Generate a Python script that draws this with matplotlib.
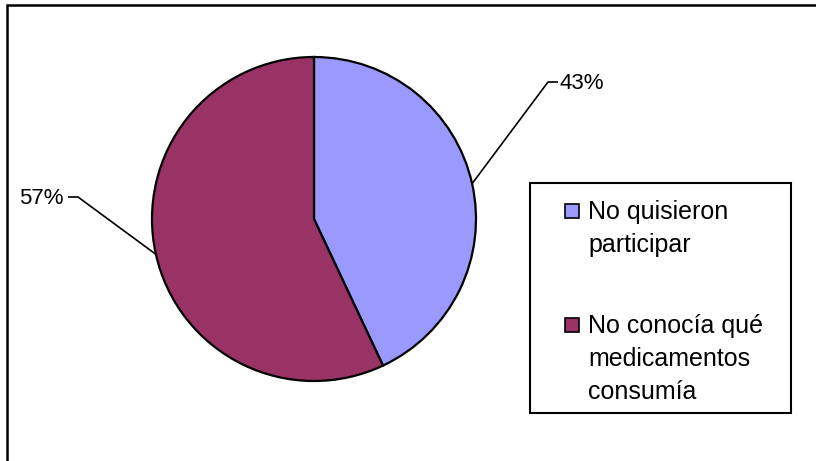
import numpy as np
import matplotlib
matplotlib.use("Agg")
import matplotlib.pyplot as plt
from matplotlib.patches import Rectangle

plt.rcParams['font.family'] = ['Liberation Sans', 'DejaVu Sans']

# pie data
categories = ["No quisieron\nparticipar", "No conocía qué\nmedicamentos\nconsumía"]
values = [43, 57]
colors = ["#9999FF", "#993366"]

W, H = 816, 461
fig = plt.figure(figsize=(W / 100, H / 100), dpi=100)
ax = fig.add_axes([0, 0, 1, 1])

# work in pixel units, y measured from the top
def py(y):
    return H - y

cx, cy, r = 314, py(219), 162
wedges, _ = ax.pie(values, colors=colors, startangle=90, counterclock=False,
                   center=(cx, cy), radius=r,
                   wedgeprops=dict(edgecolor="black", linewidth=1.6))

ax.set_xlim(0, W)
ax.set_ylim(0, H)
ax.set_aspect("auto")
ax.axis("off")

# percentage labels with bent leader lines
label_layout = [
    # elbow x, elbow y, end x, text x, alignment
    (548, 82, 558, 560, "left"),
    (78, 197, 68, 64, "right"),
]
for w, v, (ex, ey, tx_end, tx, ha) in zip(wedges, values, label_layout):
    mid = np.deg2rad((w.theta1 + w.theta2) / 2)
    sx = cx + r * np.cos(mid)
    sy = cy + r * np.sin(mid)
    ax.plot([sx, ex, tx_end], [sy, py(ey), py(ey)], color="black", lw=1.2,
            solid_capstyle="butt", clip_on=False)
    ax.text(tx, py(ey) - 7, f"{v}%", ha=ha, va="baseline", fontsize=16)

# legend box drawn by hand so the swatch sits beside the first line
ax.add_patch(Rectangle((530, py(413)), 261, 230, facecolor="white",
                       edgecolor="black", linewidth=1.5, zorder=3))
entry_tops = [203, 317]
for top, lab, col in zip(entry_tops, categories, colors):
    ax.add_patch(Rectangle((565, py(top + 15)), 14, 14, facecolor=col,
                           edgecolor="black", linewidth=1.2, zorder=4))
    ax.text(588, py(top) + 3, lab, ha="left", va="top", fontsize=18,
            linespacing=1.48, zorder=4)

# chart area border
ax.add_patch(Rectangle((7, py(470)), 830, 465, facecolor="none",
                       edgecolor="black", linewidth=1.8, clip_on=False))

plt.savefig("out.png", dpi=100)
